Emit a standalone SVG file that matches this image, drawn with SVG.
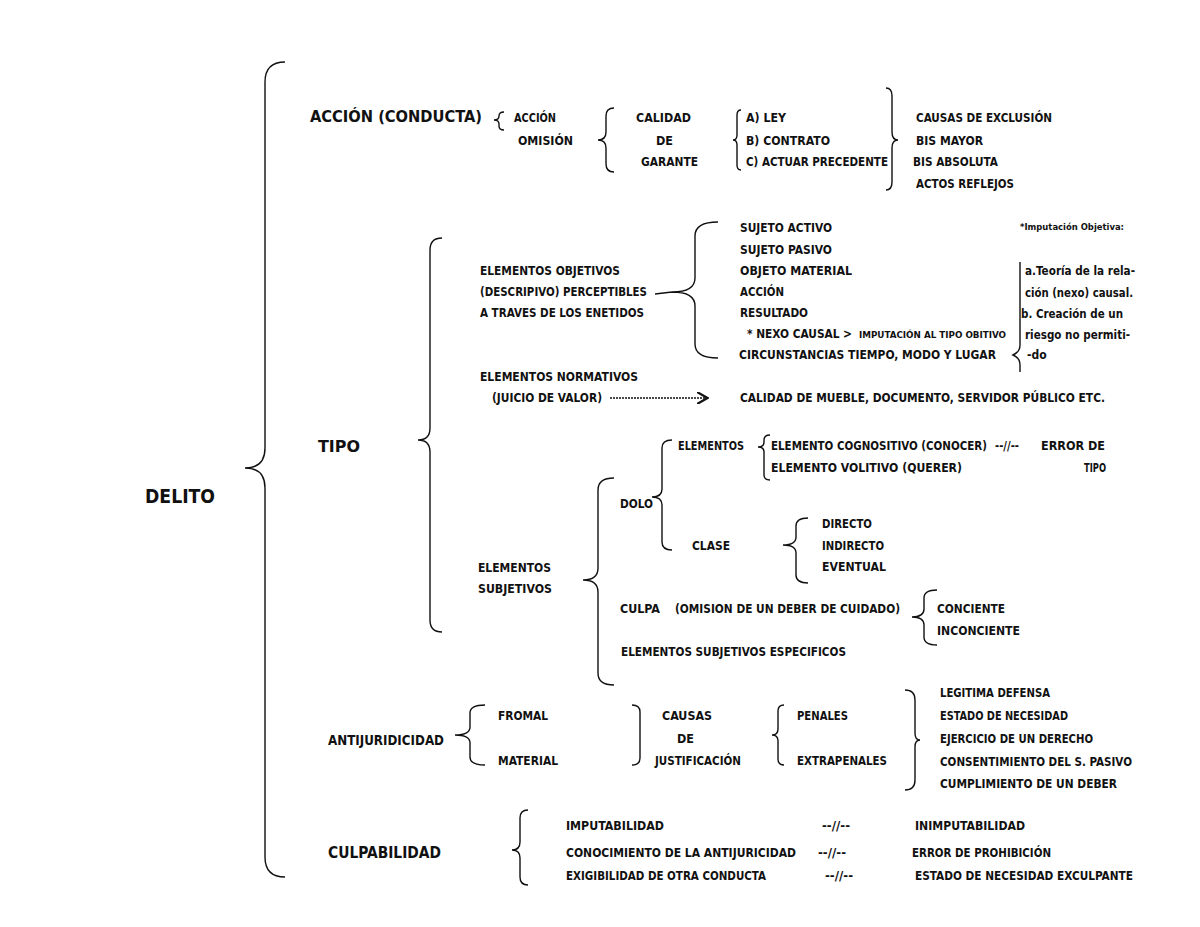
<svg xmlns="http://www.w3.org/2000/svg" width="1200" height="927" viewBox="0 0 1200 927">
<style>
text{font-family:"Liberation Sans Narrow","DejaVu Sans Condensed","Liberation Sans",sans-serif;font-weight:bold;font-size:12px;fill:#111}
.big{font-size:15px}
.sm{font-size:9px}
.br{fill:none;stroke:#111;stroke-width:1.4}
</style>
<defs><marker id="ah" markerWidth="8" markerHeight="8" refX="6" refY="4" orient="auto"><path d="M0,0 L7,4 L0,8" fill="none" stroke="#111" stroke-width="1.5"/></marker></defs>
<rect width="1200" height="927" fill="#fff"/>
<g id="connectors">
<path class="br" d="M285 62 Q265 62 265 82 L265 448 Q265 468 245 468 Q265 468 265 488 L265 857 Q265 877 285 877"/>
<path class="br" d="M504 112 Q499 112 499 116 Q499 120 494 120 Q499 120 499 124 L499 126 Q499 130 504 130"/>
<path class="br" d="M614 108 Q606 108 606 116 L606 132 Q606 140 598 140 Q606 140 606 148 L606 164 Q606 172 614 172"/>
<path class="br" d="M741 110 Q737 110 737 115 L737 135 Q737 140 733 140 Q737 140 737 145 L737 165 Q737 170 741 170"/>
<path class="br" d="M886 88 Q892 88 892 96 L892 132 Q892 140 898 140 Q892 140 892 148 L892 182 Q892 190 886 190"/>
<path class="br" d="M442 238 Q430 238 430 250 L430 428 Q430 440 418 440 Q430 440 430 452 L430 620 Q430 632 442 632"/>
<path class="br" d="M718 222 Q695 222 695 236 L695 278 Q695 292 672 292 Q695 292 695 306 L695 344 Q695 358 718 358 M655 294 L672 292"/>
<path class="br" d="M1020 262 L1020 345 Q1020 352 1013 355 Q1020 358 1020 365 L1020 372"/>
<line x1="610" y1="398" x2="706" y2="398" stroke="#111" stroke-width="1.5" stroke-dasharray="2 1" marker-end="url(#ah)"/>
<path class="br" d="M672 440 Q662 440 662 448 L662 489 Q662 497 652 497 Q662 497 662 505 L662 542 Q662 550 672 550"/>
<path class="br" d="M770 435 Q764 435 764 440 L764 442 Q764 447 758 447 Q764 447 764 452 L764 475 Q764 480 770 480"/>
<path class="br" d="M808 518 Q796 518 796 526 L796 537 Q796 545 783 545 Q796 545 796 553 L796 575 Q796 583 808 583"/>
<path class="br" d="M614 478 Q598 478 598 490 L598 568 Q598 580 583 580 Q598 580 598 592 L598 673 Q598 685 614 685"/>
<path class="br" d="M937 590 Q924 590 924 598 L924 609 Q924 617 912 617 Q924 617 924 625 L924 637 Q924 645 937 645"/>
<path class="br" d="M485 705 Q470 705 470 713 L470 727 Q470 735 455 735 Q470 735 470 743 L470 757 Q470 765 485 765"/>
<path class="br" d="M632 705 Q640 705 640 712 L640 758 Q640 765 632 765"/>
<path class="br" d="M784 705 Q778 705 778 711 L778 729 Q778 735 772 735 Q778 735 778 741 L778 759 Q778 765 784 765"/>
<path class="br" d="M905 690 Q915 690 915 700 L915 733 Q915 740 920 740 Q915 740 915 747 L915 780 Q915 790 905 790"/>
<path class="br" d="M528 810 Q520 810 520 818 L520 842 Q520 850 512 850 Q520 850 520 858 L520 877 Q520 885 528 885"/>
</g>
<g id="delito"><text x="145" y="503" style="font-size:20px" textLength="70" lengthAdjust="spacingAndGlyphs">DELITO</text></g>
<g id="accion">
<text class="big" x="310" y="122" textLength="172" lengthAdjust="spacingAndGlyphs">ACCIÓN (CONDUCTA)</text>
<text x="514" y="122" textLength="42" lengthAdjust="spacingAndGlyphs">ACCIÓN</text>
<text x="518" y="145" textLength="55" lengthAdjust="spacingAndGlyphs">OMISIÓN</text>
<text x="636" y="122" textLength="55" lengthAdjust="spacingAndGlyphs">CALIDAD</text>
<text x="656" y="145" textLength="17" lengthAdjust="spacingAndGlyphs">DE</text>
<text x="641" y="166" textLength="57" lengthAdjust="spacingAndGlyphs">GARANTE</text>
<text x="746" y="122" textLength="40" lengthAdjust="spacingAndGlyphs">A) LEY</text>
<text x="746" y="145" textLength="84" lengthAdjust="spacingAndGlyphs">B) CONTRATO</text>
<text x="746" y="166" textLength="142" lengthAdjust="spacingAndGlyphs">C) ACTUAR PRECEDENTE</text>
<text x="916" y="122" textLength="136" lengthAdjust="spacingAndGlyphs">CAUSAS DE EXCLUSIÓN</text>
<text x="916" y="145" textLength="67" lengthAdjust="spacingAndGlyphs">BIS MAYOR</text>
<text x="913" y="166" textLength="85" lengthAdjust="spacingAndGlyphs">BIS ABSOLUTA</text>
<text x="916" y="188" textLength="98" lengthAdjust="spacingAndGlyphs">ACTOS REFLEJOS</text>
</g>
<g id="tipo">
<text class="big" x="318" y="452" textLength="42" lengthAdjust="spacingAndGlyphs">TIPO</text>
<text x="480" y="275" textLength="140" lengthAdjust="spacingAndGlyphs">ELEMENTOS OBJETIVOS</text>
<text x="480" y="296" textLength="167" lengthAdjust="spacingAndGlyphs">(DESCRIPIVO) PERCEPTIBLES</text>
<text x="480" y="317" textLength="164" lengthAdjust="spacingAndGlyphs">A TRAVES DE LOS ENETIDOS</text>
<text x="740" y="232" textLength="92" lengthAdjust="spacingAndGlyphs">SUJETO ACTIVO</text>
<text x="740" y="254" textLength="92" lengthAdjust="spacingAndGlyphs">SUJETO PASIVO</text>
<text x="740" y="275" textLength="112" lengthAdjust="spacingAndGlyphs">OBJETO MATERIAL</text>
<text x="740" y="296" textLength="44" lengthAdjust="spacingAndGlyphs">ACCIÓN</text>
<text x="740" y="317" textLength="68" lengthAdjust="spacingAndGlyphs">RESULTADO</text>
<text x="747" y="338" textLength="105" lengthAdjust="spacingAndGlyphs">* NEXO CAUSAL &gt;</text>
<text class="sm" x="859" y="338" textLength="147" lengthAdjust="spacingAndGlyphs">IMPUTACIÓN AL TIPO OBITIVO</text>
<text x="739" y="359" textLength="257" lengthAdjust="spacingAndGlyphs">CIRCUNSTANCIAS TIEMPO, MODO Y LUGAR</text>
<text class="sm" x="1020" y="230" textLength="104" lengthAdjust="spacingAndGlyphs">*Imputación Objetiva:</text>
<text x="1025" y="275" textLength="110" lengthAdjust="spacingAndGlyphs">a.Teoría de la rela-</text>
<text x="1025" y="297" textLength="108" lengthAdjust="spacingAndGlyphs">ción (nexo) causal.</text>
<text x="1021" y="318" textLength="102" lengthAdjust="spacingAndGlyphs">b. Creación de un</text>
<text x="1025" y="339" textLength="105" lengthAdjust="spacingAndGlyphs">riesgo no permiti-</text>
<text x="1027" y="359">-do</text>
<text x="480" y="381" textLength="158" lengthAdjust="spacingAndGlyphs">ELEMENTOS NORMATIVOS</text>
<text x="492" y="402" textLength="110" lengthAdjust="spacingAndGlyphs">(JUICIO DE VALOR)</text>
<text x="740" y="402" textLength="365" lengthAdjust="spacingAndGlyphs">CALIDAD DE  MUEBLE, DOCUMENTO, SERVIDOR PÚBLICO ETC.</text>
<text x="678" y="450" textLength="66" lengthAdjust="spacingAndGlyphs">ELEMENTOS</text>
<text x="771" y="450" textLength="216" lengthAdjust="spacingAndGlyphs">ELEMENTO COGNOSITIVO (CONOCER)</text>
<text x="995" y="450" textLength="24" lengthAdjust="spacingAndGlyphs">--//--</text>
<text x="1041" y="450" textLength="64" lengthAdjust="spacingAndGlyphs">ERROR DE</text>
<text x="771" y="472" textLength="191" lengthAdjust="spacingAndGlyphs">ELEMENTO VOLITIVO  (QUERER)</text>
<text x="1084" y="472" textLength="22" lengthAdjust="spacingAndGlyphs">TIPO</text>
<text x="620" y="508" textLength="33" lengthAdjust="spacingAndGlyphs">DOLO</text>
<text x="692" y="550" textLength="38" lengthAdjust="spacingAndGlyphs">CLASE</text>
<text x="822" y="528" textLength="50" lengthAdjust="spacingAndGlyphs">DIRECTO</text>
<text x="822" y="550" textLength="62" lengthAdjust="spacingAndGlyphs">INDIRECTO</text>
<text x="822" y="571" textLength="64" lengthAdjust="spacingAndGlyphs">EVENTUAL</text>
<text x="478" y="572" textLength="73" lengthAdjust="spacingAndGlyphs">ELEMENTOS</text>
<text x="478" y="593" textLength="74" lengthAdjust="spacingAndGlyphs">SUBJETIVOS</text>
<text x="620" y="613" textLength="40" lengthAdjust="spacingAndGlyphs">CULPA</text>
<text x="675" y="613" textLength="225" lengthAdjust="spacingAndGlyphs">(OMISION DE UN DEBER DE CUIDADO)</text>
<text x="937" y="613" textLength="68" lengthAdjust="spacingAndGlyphs">CONCIENTE</text>
<text x="937" y="635" textLength="83" lengthAdjust="spacingAndGlyphs">INCONCIENTE</text>
<text x="621" y="656" textLength="225" lengthAdjust="spacingAndGlyphs">ELEMENTOS SUBJETIVOS ESPECIFICOS</text>
</g>
<g id="antijuridicidad">
<text x="328" y="745" style="font-size:14px" textLength="116" lengthAdjust="spacingAndGlyphs">ANTIJURIDICIDAD</text>
<text x="498" y="720" textLength="50" lengthAdjust="spacingAndGlyphs">FROMAL</text>
<text x="498" y="765" textLength="60" lengthAdjust="spacingAndGlyphs">MATERIAL</text>
<text x="662" y="720" textLength="50" lengthAdjust="spacingAndGlyphs">CAUSAS</text>
<text x="677" y="743" textLength="17" lengthAdjust="spacingAndGlyphs">DE</text>
<text x="655" y="765" textLength="86" lengthAdjust="spacingAndGlyphs">JUSTIFICACIÓN</text>
<text x="797" y="720" textLength="51" lengthAdjust="spacingAndGlyphs">PENALES</text>
<text x="797" y="765" textLength="90" lengthAdjust="spacingAndGlyphs">EXTRAPENALES</text>
<text x="940" y="697" textLength="110" lengthAdjust="spacingAndGlyphs">LEGITIMA DEFENSA</text>
<text x="940" y="720" textLength="128" lengthAdjust="spacingAndGlyphs">ESTADO DE NECESIDAD</text>
<text x="940" y="743" textLength="153" lengthAdjust="spacingAndGlyphs">EJERCICIO DE UN DERECHO</text>
<text x="940" y="766" textLength="192" lengthAdjust="spacingAndGlyphs">CONSENTIMIENTO DEL S. PASIVO</text>
<text x="940" y="788" textLength="177" lengthAdjust="spacingAndGlyphs">CUMPLIMIENTO DE UN DEBER</text>
</g>
<g id="culpabilidad">
<text class="big" x="328" y="858" textLength="113" lengthAdjust="spacingAndGlyphs">CULPABILIDAD</text>
<text x="566" y="830" textLength="98" lengthAdjust="spacingAndGlyphs">IMPUTABILIDAD</text>
<text x="822" y="830" textLength="28" lengthAdjust="spacingAndGlyphs">--//--</text>
<text x="915" y="830" textLength="110" lengthAdjust="spacingAndGlyphs">INIMPUTABILIDAD</text>
<text x="566" y="857" textLength="230" lengthAdjust="spacingAndGlyphs">CONOCIMIENTO DE LA ANTIJURICIDAD</text>
<text x="818" y="857" textLength="28" lengthAdjust="spacingAndGlyphs">--//--</text>
<text x="912" y="857" textLength="139" lengthAdjust="spacingAndGlyphs">ERROR DE PROHIBICIÓN</text>
<text x="566" y="880" textLength="200" lengthAdjust="spacingAndGlyphs">EXIGIBILIDAD DE OTRA CONDUCTA</text>
<text x="825" y="880" textLength="28" lengthAdjust="spacingAndGlyphs">--//--</text>
<text x="915" y="880" textLength="218" lengthAdjust="spacingAndGlyphs">ESTADO DE NECESIDAD EXCULPANTE</text>
</g>
</svg>
